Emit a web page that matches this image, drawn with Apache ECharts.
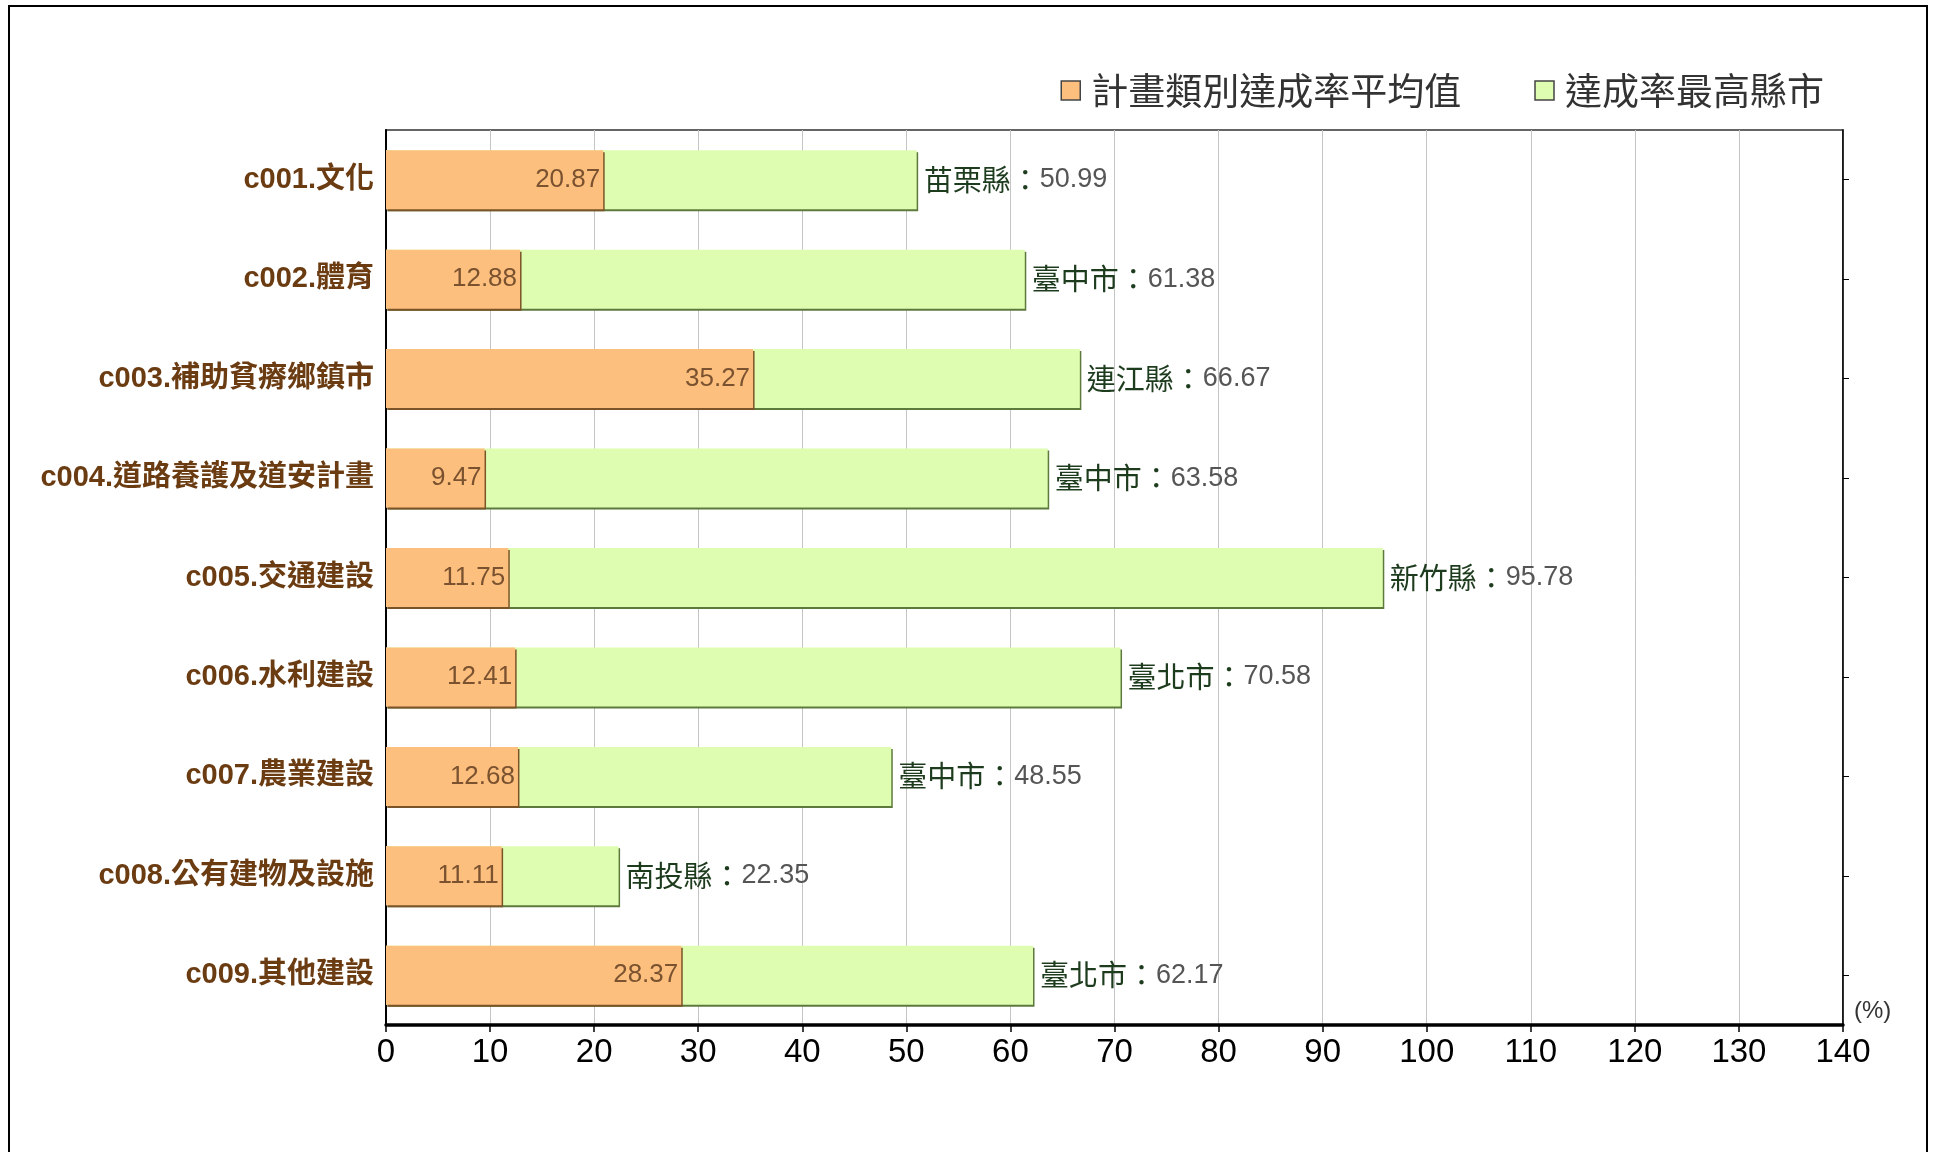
<!DOCTYPE html>
<html><head><meta charset="utf-8">
<script src="https://cdn.jsdelivr.net/npm/echarts@6/dist/echarts.min.js"></script>
<style>html,body{margin:0;padding:0;background:#fff}#c{width:1934px;height:1152px}</style>
</head><body><div id="c"></div>
<script>
const categories = ['c001.文化','c002.體育','c003.補助貧瘠鄉鎮市','c004.道路養護及道安計畫','c005.交通建設','c006.水利建設','c007.農業建設','c008.公有建物及設施','c009.其他建設'];
const avgValues = [20.87, 12.88, 35.27, 9.47, 11.75, 12.41, 12.68, 11.11, 28.37];
const maxValues = [50.99, 61.38, 66.67, 63.58, 95.78, 70.58, 48.55, 22.35, 62.17];
const maxCounties = ['苗栗縣','臺中市','連江縣','臺中市','新竹縣','臺北市','臺中市','南投縣','臺北市'];
const seriesNames = ['計畫類別達成率平均值','達成率最高縣市'];
const xTicks = {min:0, max:140, interval:10};

const FONT = 'Arial, "Liberation Sans", "Noto Sans CJK TC", sans-serif';
const chart = echarts.init(document.getElementById('c'));
chart.setOption({
  animation:false,
  backgroundColor:'#fff',
  textStyle:{fontFamily:FONT},
  graphic:[{type:'rect', shape:{x:9,y:6,width:1918,height:1200}, style:{fill:'none',stroke:'#000',lineWidth:2}, silent:true}],
  legend:{
    data:seriesNames, right:105, top:67, itemWidth:19, itemHeight:19, itemGap:73, icon:'rect',
    textStyle:{fontSize:37, color:'#333', fontFamily:'"Noto Sans CJK TC", sans-serif', padding:[0,0,0,6]},
    itemStyle:{borderColor:'#444', borderWidth:1.5, shadowBlur:0, shadowOffsetX:0, shadowOffsetY:0, shadowColor:'transparent'}
  },
  grid:{left:386, right:91, top:130, bottom:127, show:true, borderColor:'#333', borderWidth:1.5},
  xAxis:{type:'value', min:xTicks.min, max:xTicks.max, interval:xTicks.interval,
    name:'(%)', nameLocation:'end', nameGap:11,
    nameTextStyle:{fontSize:24, color:'#333', verticalAlign:'bottom', padding:[0,0,2,0]},
    axisLine:{show:true, lineStyle:{color:'#000', width:3.5}},
    axisTick:{show:true, length:7, lineStyle:{color:'#000', width:1.5}},
    axisLabel:{fontSize:33, color:'#000', margin:11},
    splitLine:{show:true, lineStyle:{color:'#c4c4c4', width:1}}
  },
  yAxis:[{type:'category', data:categories, inverse:true,
    axisLine:{show:true, lineStyle:{color:'#000', width:2}},
    axisTick:{show:false},
    axisLabel:{fontSize:29, fontWeight:'bold', color:'#6b3c12', margin:12}
  },{type:'category', data:categories, inverse:true, position:'right',
    axisLine:{show:true, lineStyle:{color:'#000', width:1.5}},
    axisTick:{show:true, alignWithLabel:true, inside:false, length:6, lineStyle:{color:'#000'}},
    axisLabel:{show:false}
  }],
  series:[{
    name:seriesNames[0], type:'bar', data:avgValues, barWidth:59, barGap:'-100%', z:3,
    itemStyle:{color:'#FDBF7D', shadowColor:'#7a5428', shadowOffsetX:1.5, shadowOffsetY:2, shadowBlur:0},
    label:{show:true, position:'insideRight', distance:3, fontSize:26, color:'#7a5230',
      formatter:p=>p.value.toFixed(2)}
  },{
    name:seriesNames[1], type:'bar', data:maxValues, barWidth:59, barGap:'-100%', z:2,
    itemStyle:{color:'#DEFDB0', shadowColor:'#5d7a3c', shadowOffsetX:1.5, shadowOffsetY:2, shadowBlur:0},
    label:{show:true, position:'right', distance:7,
      formatter:p=>'{n|'+maxCounties[p.dataIndex]+'：}{v|'+p.value.toFixed(2)+'}',
      rich:{n:{fontSize:29, color:'#1d3b1d', fontFamily:'"Noto Sans CJK TC", sans-serif'}, v:{fontSize:27, color:'#555', fontFamily:FONT}}}
  }]
});
</script></body></html>
